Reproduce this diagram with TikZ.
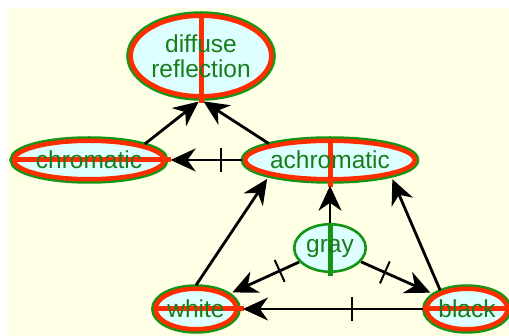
\documentclass[tikz,border=0pt]{standalone}
\usepackage{fontspec}
\setmainfont{Liberation Sans}
\usetikzlibrary{shapes.geometric,arrows.meta,decorations.markings}

\definecolor{bgyellow}{RGB}{255,255,230}
\definecolor{cyanfill}{RGB}{222,255,255}
\definecolor{ringred}{RGB}{255,45,0}
\definecolor{ringgreen}{RGB}{20,150,20}
\definecolor{txtgreen}{RGB}{25,125,25}

\begin{document}
\begin{tikzpicture}
		[
			x=1pt, y=-1pt,
			base/.style = {ellipse, inner sep=0pt, align=center, text=txtgreen, fill=cyanfill,
				font=\fontsize{24.5}{25}\selectfont},
			rnode/.style = {base, draw=ringred, line width=4.5pt, outer sep=3.5pt,
				preaction={draw=ringgreen, line width=9pt}},
			gnode/.style = {base, draw=ringgreen, line width=2.6pt, outer sep=1.5pt},
			hbar/.style = {path picture={\draw[line width=5pt, #1]
				(path picture bounding box.west) -- (path picture bounding box.east);}},
			vbar/.style = {path picture={\draw[line width=5pt, #1]
				(path picture bounding box.north) -- (path picture bounding box.south);}},
			barline/.style = {line width=5pt, draw=#1},
			arr/.style = {draw=black, line width=2.8pt, shorten >=3pt,
				-{Stealth[length=25pt, width=23pt, inset=8pt]}},
			tick/.style = {postaction={decorate, decoration={markings, mark=at position #1 with
				{\draw[line width=2pt, -, shorten >=0pt] (0pt,-12pt) -- (0pt,12pt);}}}},
		]

		\useasboundingbox (0,0) rectangle (509,336);
		\fill[bgyellow] (8,8) rectangle (509,336);

		% colour nodes
		\node[rnode, vbar=ringred, minimum width=138.5, minimum height=80.5] (diff) at (201,56) {diffuse\\reflection};
		\node[rnode, hbar=ringred, minimum width=148.5, minimum height=38.5] (chrom) at (89,160) {chromatic};
		\node[rnode, vbar=ringred, minimum width=166.5, minimum height=38.5] (achrom) at (330,160) {achromatic};
		\node[gnode, vbar=ringgreen, minimum width=71.5, minimum height=47.5] (gray) at (330,248) {gray};
		\node[rnode, hbar=ringred, minimum width=78.5, minimum height=40.5] (white) at (196,309) {white};
		\node[rnode, hbar=ringred, minimum width=78.5, minimum height=40.5] (black) at (467,309) {black};

		% bar ends past the rings
		\draw[barline=ringred] ([yshift=3pt]diff.south) -- ++(0,6);
		\draw[barline=ringred] ([xshift=-3pt]chrom.east) -- ++(6,0);
		\draw[barline=ringred] ([yshift=3pt]achrom.south) -- ++(0,7);
		\draw[barline=ringgreen] ([yshift=1pt]gray.south) -- ++(0,4);
		\draw[barline=ringred] ([xshift=-3pt]white.east) -- ++(7,0);
		\draw[barline=ringred] ([xshift=4pt]black.west) -- ++(-4,0);

		\foreach \from/\to in {chrom.16/diff.south,achrom.165/diff.south,white.north/achrom.195,gray/achrom,black.145/achrom.345}
		\draw[arr] (\from) -- (\to);

		\foreach \from/\to/\pos in {achrom/chrom/0.28,gray/white/0.28,gray/black/0.33,black/white/0.39}
		\draw[arr, tick=\pos] (\from) -- (\to);

		\end{tikzpicture}
\end{document}
